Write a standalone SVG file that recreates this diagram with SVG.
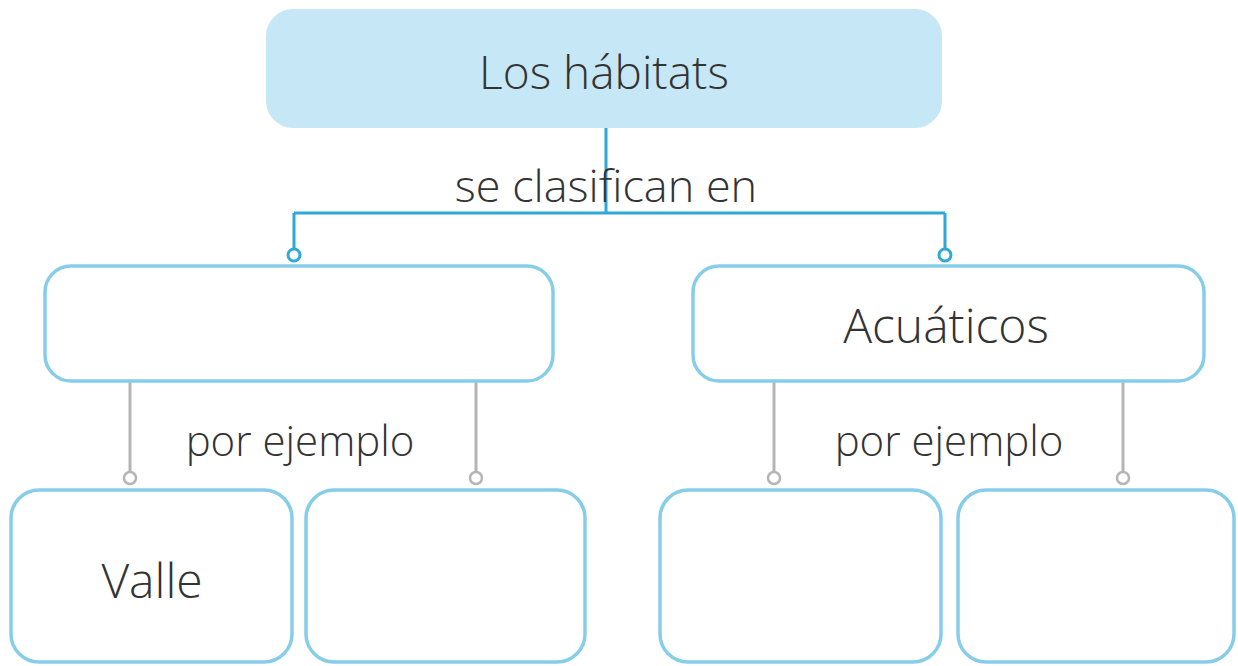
<svg xmlns="http://www.w3.org/2000/svg" width="1238" height="666" viewBox="0 0 1238 666">
<style>
.box{fill:#ffffff;stroke:#86cdea;stroke-width:3.5}
.top{fill:#c6e7f6;stroke:#c6e7f6;stroke-width:2}
.t{font-family:"Open Sans","Liberation Sans",sans-serif;font-weight:300;fill:#333333;text-anchor:middle}
.blue{stroke:#2fa8d8;stroke-width:3;fill:none}
.gray{stroke:#b5b5b5;stroke-width:3;fill:none}
.cb{fill:#ffffff;stroke:#2fa8d8;stroke-width:3}
.cg{fill:#ffffff;stroke:#b5b5b5;stroke-width:2.5}
</style>
<rect width="1238" height="666" fill="#ffffff"/>
<g id="connectors">
<path class="blue" d="M606 127 V213 M294 213 H945 M294 213 V249 M945 213 V249"/>
<circle class="cb" cx="294" cy="255" r="6"/>
<circle class="cb" cx="945" cy="255" r="6"/>
<path class="gray" d="M130 381 V472 M476 381 V472 M774 381 V472 M1123 381 V472"/>
<circle class="cg" cx="130" cy="478" r="6"/>
<circle class="cg" cx="476" cy="478" r="6"/>
<circle class="cg" cx="774" cy="478" r="6"/>
<circle class="cg" cx="1123" cy="478" r="6"/>
<text class="t" x="606" y="202" font-size="45">se clasifican en</text>
<text class="t" x="300" y="456" font-size="42">por ejemplo</text>
<text class="t" x="949" y="456" font-size="42">por ejemplo</text>
</g>
<g id="node-habitats">
<rect class="top" x="267" y="10" width="674" height="117" rx="26"/>
<text class="t" x="604" y="89" font-size="46">Los hábitats</text>
</g>
<g id="node-terrestres">
<rect class="box" x="45" y="266" width="508" height="115" rx="26"/>
</g>
<g id="node-acuaticos">
<rect class="box" x="693" y="266" width="511" height="115" rx="26"/>
<text class="t" x="946" y="343" font-size="48">Acuáticos</text>
</g>
<g id="node-valle">
<rect class="box" x="11" y="490" width="281" height="172" rx="28"/>
<text class="t" x="152" y="598" font-size="48">Valle</text>
</g>
<g id="node-empty2">
<rect class="box" x="306" y="490" width="279" height="172" rx="28"/>
</g>
<g id="node-empty3">
<rect class="box" x="660" y="490" width="281" height="172" rx="28"/>
</g>
<g id="node-empty4">
<rect class="box" x="958" y="490" width="276" height="172" rx="28"/>
</g>
</svg>
